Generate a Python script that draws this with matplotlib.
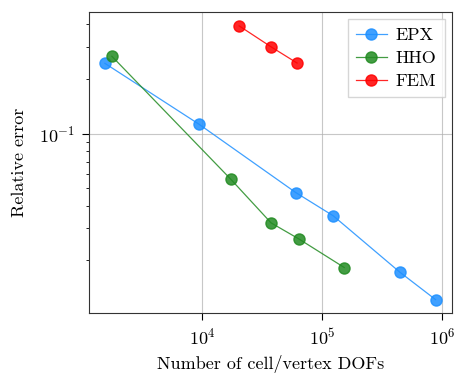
import matplotlib
matplotlib.use("Agg")
import matplotlib.pyplot as plt
from matplotlib.ticker import NullLocator, NullFormatter

plt.rcParams['font.family'] = 'cmr10'
plt.rcParams['mathtext.fontset'] = 'cm'
plt.rcParams['axes.formatter.use_mathtext'] = True

epx_x = [1540, 9380, 60300, 124000, 443000, 885000]
epx_y = [0.244, 0.1126, 0.0472, 0.0351, 0.0172, 0.0121]
hho_x = [1760, 17300, 37500, 63800, 153000]
hho_y = [0.267, 0.0559, 0.0321, 0.0262, 0.0182]
fem_x = [20300, 37500, 61800]
fem_y = [0.393, 0.301, 0.245]

fig = plt.figure(figsize=(4.56, 3.79), dpi=100)
ax = fig.add_axes([0.195, 0.174, 0.796, 0.794])

kw = dict(marker='o', markersize=8, linewidth=0.9, alpha=0.85)
ax.plot(epx_x, epx_y, color='#1E90FF', label='EPX', **kw)
ax.plot(hho_x, hho_y, color='forestgreen', label='HHO', **kw)
ax.plot(fem_x, fem_y, color='red', label='FEM', **kw)

ax.set_xscale('log')
ax.set_yscale('log')
ax.set_xlim(10**3.054, 10**6.083)
ax.set_ylim(0.0102, 0.468)
ax.xaxis.set_minor_locator(NullLocator())
ax.yaxis.set_minor_formatter(NullFormatter())
ax.grid(True, which='major', color='#b0b0b0', linewidth=0.8, alpha=0.7)
ax.set_axisbelow(True)
ax.tick_params(which='major', labelsize=13, length=5, pad=5)
ax.tick_params(which='minor', length=2.5)
ax.set_xlabel('Number of cell/vertex DOFs', fontsize=13, labelpad=5)
ax.set_ylabel('Relative error', fontsize=13, labelpad=9)
for s in ax.spines.values():
    s.set_color('#333333')
ax.legend(loc='upper right', fontsize=13, handlelength=1.7, borderpad=0.45,
          labelspacing=0.4, handletextpad=0.5, fancybox=False,
          borderaxespad=0.4)

fig.savefig('out.png', dpi=100)
